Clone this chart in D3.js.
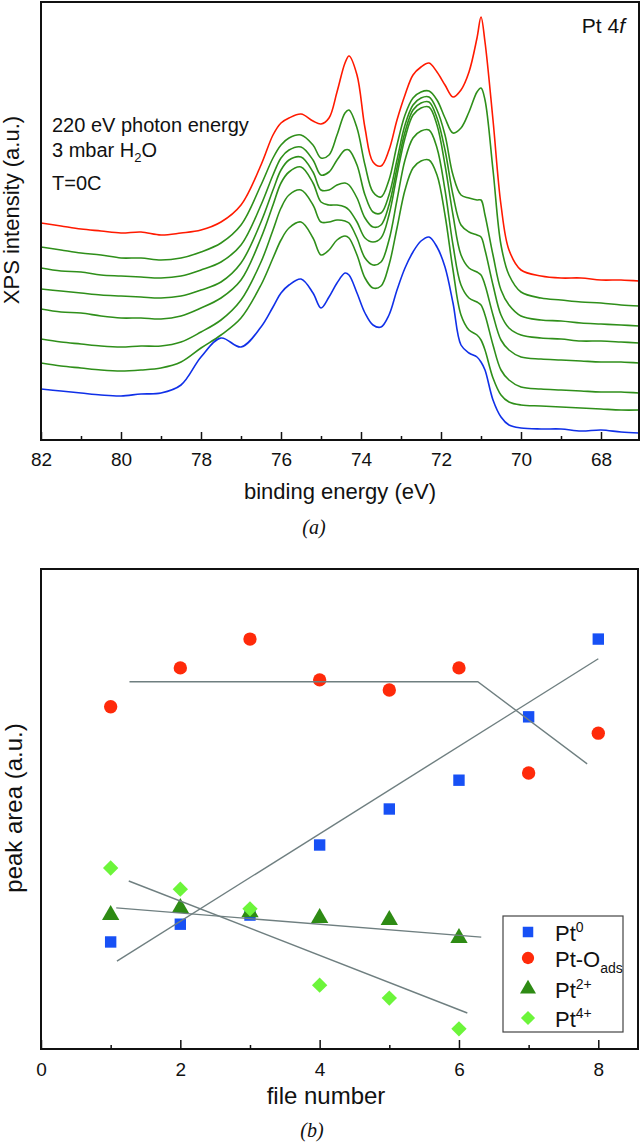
<!DOCTYPE html>
<html>
<head>
<meta charset="utf-8">
<script src="https://cdn.jsdelivr.net/npm/d3@7"></script>
<style>
  body { margin: 0; background: #fff; }
  text { font-family: "Liberation Sans", Arial, sans-serif; fill: #111; }
</style>
</head>
<body>
<div id="chart"></div>
<script>
// ---------- panel (a): Pt 4f spectra (intensity, a.u.) ----------
var energy = [82, 81.5, 81, 80.5, 80, 79.5, 79, 78.5, 78, 77.5, 77, 76.5, 76.2, 76, 75.8, 75.5, 75.2, 75, 74.8, 74.6,
  74.4, 74.3, 74.1, 73.9, 73.7, 73.5, 73.3, 73.1, 72.9, 72.7, 72.5, 72.3, 72.1, 71.9, 71.7, 71.5, 71.3, 71.1, 71.0, 70.9,
  70.7, 70.5, 70.3, 70.0, 69.5, 69, 68.5, 68, 67.5, 67.05];

var specRed = [217, 214, 211, 209, 207, 208, 205, 207, 210, 218, 235, 275, 305, 317, 322, 326, 319, 316, 322, 348,
  377, 384, 365, 312, 278, 274, 290, 320, 345, 365, 373, 377, 368, 355, 343, 350, 368, 402, 423, 398,
  320, 235, 190, 170, 164, 162, 162, 160, 160, 159];
var specG1 = [193, 190, 187, 185, 182, 182, 180, 182, 188, 197, 215, 255, 282, 295, 302, 305, 295, 282, 285, 305,
  327, 330, 312, 275, 248, 243, 260, 295, 325, 342, 348, 349, 340, 322, 307, 312, 328, 348, 352, 340,
  270, 195, 165, 148, 142, 140, 138, 137, 135, 134];
var specG2 = [172, 169, 168, 165, 164, 163, 162, 164, 170, 178, 195, 235, 265, 282, 290, 293, 280, 265, 268, 280,
  290, 290, 275, 245, 228, 227, 245, 280, 315, 335, 342, 343, 330, 305, 265, 245, 242, 240, 240, 225,
  185, 150, 135, 124, 120, 119, 117, 116, 115, 114];
var specG3 = [151, 149, 147, 145, 144, 143, 142, 144, 150, 158, 177, 218, 250, 270, 280, 283, 268, 250, 250, 255,
  257, 255, 242, 222, 213, 215, 235, 272, 308, 330, 337, 338, 322, 290, 245, 215, 208, 205, 203, 190,
  155, 125, 112, 105, 102, 101, 99, 99, 98, 97];
var specG4 = [131, 128, 127, 124, 122, 122, 121, 124, 132, 142, 160, 202, 235, 257, 268, 273, 257, 238, 235, 235,
  233, 230, 218, 202, 198, 202, 225, 265, 302, 325, 332, 333, 315, 275, 225, 185, 172, 168, 165, 155,
  125, 100, 90, 83, 81, 80, 79, 78, 78, 77];
var specG5 = [101, 98, 96, 94, 93, 94, 94, 98, 108, 120, 140, 178, 210, 232, 245, 250, 235, 218, 218, 220,
  219, 217, 202, 182, 175, 178, 200, 240, 280, 302, 309, 310, 292, 250, 195, 155, 142, 138, 135, 125,
  95, 70, 60, 53, 51, 50, 49, 48, 48, 47];
var specG6 = [77, 74, 72, 70, 69, 70, 72, 78, 92, 105, 122, 155, 182, 200, 212, 218, 202, 185, 190, 200,
  204, 202, 185, 162, 152, 154, 175, 212, 250, 272, 279, 280, 265, 225, 170, 125, 110, 105, 100, 90,
  62, 45, 38, 35, 34, 33, 32, 31, 30, 30];
var specBlue = [51, 49, 47, 45, 44, 46, 47, 55, 83, 102, 93, 113, 133, 147, 155, 161, 147, 132, 143, 157,
  167, 165, 147, 127, 115, 113, 125, 150, 172, 188, 199, 203, 193, 173, 137, 95, 87, 83, 78, 70,
  40, 23, 15, 12, 11, 11, 9, 10, 8, 7];

var xTicksA = [82, 80, 78, 76, 74, 72, 70, 68];
var xMinorA = [81, 79, 77, 75, 73, 71, 69, 67];

// ---------- panel (b): peak areas vs file number ----------
var fileNo = [1, 2, 3, 4, 5, 6, 7, 8];
var pt0 = [2.23, 2.60, 2.79, 4.25, 5.00, 5.60, 6.92, 8.54];
var ptOads = [7.13, 7.94, 8.54, 7.69, 7.48, 7.94, 5.75, 6.58];
var pt2 = [2.79, 2.94, 2.85, 2.73, 2.69, 2.31];
var pt4 = [3.77, 3.33, 2.92, 1.33, 1.06, 0.42];

var fitOads = [[1.27, 7.65], [6.27, 7.65], [7.84, 5.94]];
var fitPt0 = [[1.09, 1.83], [8.0, 8.13]];
var fitPt2 = [[1.08, 2.94], [6.32, 2.33]];
var fitPt4 = [[1.26, 3.50], [6.12, 0.75]];

var xTicksB = [0, 2, 4, 6, 8];
var xMinorB = [1, 3, 5, 7];

var W = 640, H = 1143;
var svg = d3.select("#chart").append("svg")
  .attr("width", W).attr("height", H);

// ===== panel (a) =====
var a = {left: 41, right: 639, top: 2, bottom: 440};
var xA = d3.scaleLinear().domain([82, 67.05]).range([a.left, a.right]);
var yA = d3.scaleLinear().domain([0, 438]).range([a.bottom, a.top]);

svg.append("clipPath").attr("id", "clipA").append("rect")
  .attr("x", a.left).attr("y", a.top)
  .attr("width", a.right - a.left).attr("height", a.bottom - a.top);

var spectra = [
  {v: specRed, c: "#ff1a00"},
  {v: specG1, c: "#2f8f1a"},
  {v: specG2, c: "#2f8f1a"},
  {v: specG3, c: "#2f8f1a"},
  {v: specG4, c: "#2f8f1a"},
  {v: specG5, c: "#2f8f1a"},
  {v: specG6, c: "#2f8f1a"},
  {v: specBlue, c: "#1030e8"}
];

var lineA = d3.line()
  .x(function(d, i) { return xA(energy[i]); })
  .y(function(d) { return yA(d); })
  .curve(d3.curveCatmullRom.alpha(0.5));

svg.append("g").attr("clip-path", "url(#clipA)")
  .selectAll("path").data(spectra).enter().append("path")
  .attr("d", function(d) { return lineA(d.v); })
  .style("fill", "none")
  .style("stroke", function(d) { return d.c; })
  .style("stroke-width", 1.6)
  .style("stroke-linejoin", "round");

// axes (a)
svg.append("g")
  .attr("transform", "translate(0," + a.bottom + ")")
  .call(d3.axisBottom(xA).tickValues(xMinorA).tickSize(-4).tickFormat(""))
  .call(function(g) { g.select(".domain").remove(); })
  .selectAll("line").style("stroke", "#111").style("stroke-width", 1.5);

var axA = svg.append("g")
  .attr("transform", "translate(0," + a.bottom + ")")
  .call(d3.axisBottom(xA).tickValues(xTicksA).tickSize(-8).tickPadding(13).tickFormat(d3.format("d")));
axA.select(".domain").remove();
axA.selectAll("line").style("stroke", "#111").style("stroke-width", 1.5);
axA.selectAll("text").style("font-size", "19px").style("font-family", "Liberation Sans, Arial, sans-serif").attr("fill", "#111");

svg.append("rect")
  .attr("x", a.left).attr("y", a.top)
  .attr("width", a.right - a.left).attr("height", a.bottom - a.top)
  .style("fill", "none").style("stroke", "#111").style("stroke-width", 2);

svg.append("text")
  .attr("x", 340).attr("y", 499)
  .attr("text-anchor", "middle")
  .style("font-size", "22px")
  .text("binding energy (eV)");

svg.append("text")
  .attr("transform", "translate(19,210) rotate(-90)")
  .attr("text-anchor", "middle")
  .style("font-size", "22px")
  .text("XPS intensity (a.u.)");

svg.append("text")
  .attr("x", 314).attr("y", 534)
  .attr("text-anchor", "middle")
  .style("font-family", "Liberation Serif, Times New Roman, serif")
  .style("font-style", "italic")
  .style("font-size", "20px")
  .text("(a)");

var pt4f = svg.append("text")
  .attr("x", 625).attr("y", 33)
  .attr("text-anchor", "end")
  .style("font-size", "21px");
pt4f.append("tspan").text("Pt 4");
pt4f.append("tspan").style("font-style", "italic").text("f");

svg.append("text").attr("x", 52).attr("y", 132).style("font-size", "20px").text("220 eV photon energy");
var h2o = svg.append("text").attr("x", 52).attr("y", 157).style("font-size", "20px");
h2o.append("tspan").text("3 mbar H");
h2o.append("tspan").attr("dy", 5).style("font-size", "13px").text("2");
h2o.append("tspan").attr("dy", -5).text("O");
svg.append("text").attr("x", 52).attr("y", 190).style("font-size", "20px").text("T=0C");

// ===== panel (b) =====
var b = {left: 41, right: 638, top: 569, bottom: 1049};
var xB = d3.scaleLinear().domain([0, 8.57]).range([b.left, b.right]);
var yB = d3.scaleLinear().domain([0, 10]).range([b.bottom, b.top]);

svg.append("g")
  .attr("transform", "translate(0," + b.bottom + ")")
  .call(d3.axisBottom(xB).tickValues(xMinorB).tickSize(-4).tickFormat(""))
  .call(function(g) { g.select(".domain").remove(); })
  .selectAll("line").style("stroke", "#111").style("stroke-width", 1.5);

var axB = svg.append("g")
  .attr("transform", "translate(0," + b.bottom + ")")
  .call(d3.axisBottom(xB).tickValues(xTicksB).tickSize(-9).tickPadding(14).tickFormat(d3.format("d")));
axB.select(".domain").remove();
axB.selectAll("line").style("stroke", "#111").style("stroke-width", 1.5);
axB.selectAll("text").style("font-size", "19px").style("font-family", "Liberation Sans, Arial, sans-serif").attr("fill", "#111");

svg.append("rect")
  .attr("x", b.left).attr("y", b.top)
  .attr("width", b.right - b.left).attr("height", b.bottom - b.top)
  .style("fill", "none").style("stroke", "#111").style("stroke-width", 2);

// diamonds are squares turned by 45 degrees
var series = [
  {name: "Pt0", vals: pt0, shape: d3.symbolSquare, size: 130, rot: 0, color: "#1750f5"},
  {name: "PtO", vals: ptOads, shape: d3.symbolCircle, size: 140, rot: 0, color: "#ff2a0a"},
  {name: "Pt2", vals: pt2, shape: d3.symbolTriangle, size: 130, rot: 0, color: "#2e8b14"},
  {name: "Pt4", vals: pt4, shape: d3.symbolSquare, size: 118, rot: 45, color: "#6cf53a"}
];

series.forEach(function(s) {
  svg.append("g").selectAll("path").data(s.vals).enter().append("path")
    .attr("transform", function(d, i) {
      return "translate(" + xB(fileNo[i]) + "," + yB(d) + ") rotate(" + s.rot + ")";
    })
    .attr("d", d3.symbol().type(s.shape).size(s.size))
    .style("fill", s.color);
});

var fitLine = d3.line()
  .x(function(d) { return xB(d[0]); })
  .y(function(d) { return yB(d[1]); });

[fitOads, fitPt0, fitPt2, fitPt4].forEach(function(f) {
  svg.append("path")
    .attr("d", fitLine(f))
    .style("fill", "none")
    .style("stroke", "#6f7f80")
    .style("stroke-width", 1.4);
});

// legend
var leg = svg.append("g");
leg.append("rect")
  .attr("x", 503).attr("y", 916).attr("width", 120).attr("height", 116)
  .style("fill", "#fff").style("stroke", "#444").style("stroke-width", 1.2);

var legRows = [
  {y: 932, base: "Pt", sup: "0", sub: null},
  {y: 958, base: "Pt-O", sup: null, sub: "ads"},
  {y: 989, base: "Pt", sup: "2+", sub: null},
  {y: 1018, base: "Pt", sup: "4+", sub: null}
];
legRows.forEach(function(r, i) {
  var s = series[i];
  leg.append("path")
    .attr("transform", "translate(528," + r.y + ") rotate(" + s.rot + ")")
    .attr("d", d3.symbol().type(s.shape).size(s.size * 0.85))
    .style("fill", s.color);
  var t = leg.append("text").attr("x", 555).attr("y", r.y + 9).style("font-size", "22px");
  t.append("tspan").text(r.base);
  if (r.sup) t.append("tspan").attr("dy", -9).style("font-size", "14px").text(r.sup);
  if (r.sub) t.append("tspan").attr("dy", 6).style("font-size", "14px").text(r.sub);
});

svg.append("text")
  .attr("x", 326).attr("y", 1104)
  .attr("text-anchor", "middle")
  .style("font-size", "24px")
  .text("file number");

svg.append("text")
  .attr("transform", "translate(22,808) rotate(-90)")
  .attr("text-anchor", "middle")
  .style("font-size", "24px")
  .text("peak area (a.u.)");

svg.append("text")
  .attr("x", 312).attr("y", 1137)
  .attr("text-anchor", "middle")
  .style("font-family", "Liberation Serif, Times New Roman, serif")
  .style("font-style", "italic")
  .style("font-size", "20px")
  .text("(b)");
</script>
</body>
</html>
